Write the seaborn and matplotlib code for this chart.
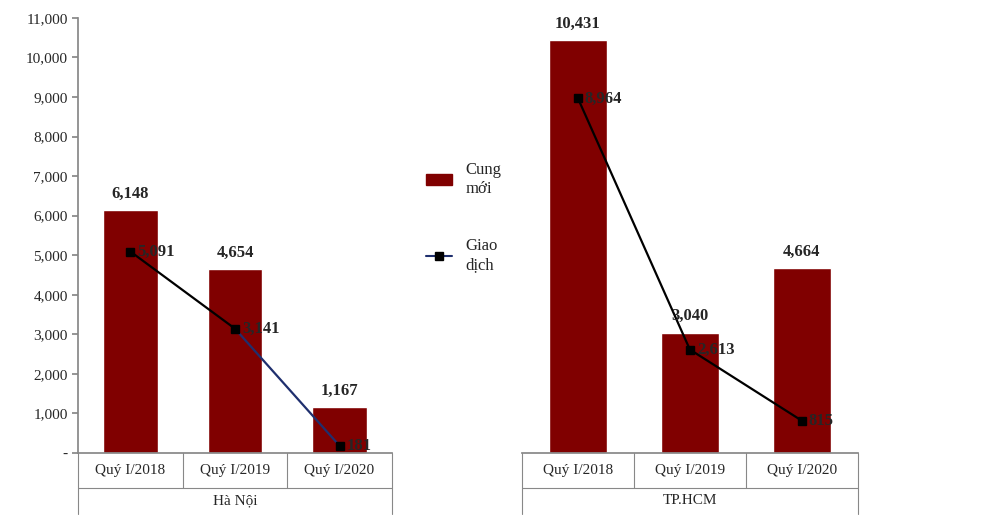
import matplotlib
matplotlib.use("Agg")
import matplotlib.pyplot as plt
import seaborn as sns
import pandas as pd
from matplotlib.lines import Line2D
from matplotlib.patches import Patch

quarters = ["Quý I/2018", "Quý I/2019", "Quý I/2020"]
regions = ["Hà Nội", "TP.HCM"]
supply = {"Hà Nội": [6148, 4654, 1167], "TP.HCM": [10431, 3040, 4664]}
deals = {"Hà Nội": [5091, 3141, 181], "TP.HCM": [8964, 2613, 815]}
yticks = list(range(0, 11001, 1000))

sns.set_theme(style="white")
plt.rcParams['font.family'] = ['Liberation Serif', 'DejaVu Serif']
bar_color = "#800000"

fig = plt.figure(figsize=(10.02, 5.26), dpi=100)
ax1 = fig.add_axes([0.078, 0.139, 0.313, 0.827])
ax2 = fig.add_axes([0.521, 0.139, 0.335, 0.827])

for ax, reg in zip([ax1, ax2], regions):
    df = pd.DataFrame({"q": quarters, "v": supply[reg]})
    sns.barplot(data=df, x="q", y="v", color=bar_color, width=0.52, ax=ax, saturation=1)
    xs = list(range(3))
    if reg == "Hà Nội":
        ax.plot(xs[:2], deals[reg][:2], color="black", lw=1.6)
        ax.plot(xs[1:], deals[reg][1:], color="#1f2f6e", lw=1.6)
    else:
        ax.plot(xs, deals[reg], color="black", lw=1.6)
    ax.plot(xs, deals[reg], ls="none", marker="s", ms=6, color="black")
    for x, v in zip(xs, supply[reg]):
        ax.annotate(f"{v:,}", (x, v), xytext=(0, 6), textcoords="offset points",
                    ha="center", va="bottom", fontsize=12, fontweight="bold")
    for x, v in zip(xs, deals[reg]):
        ax.annotate(f"{v:,}", (x, v), xytext=(5, 0), textcoords="offset points",
                    ha="left", va="center", fontsize=12, fontweight="bold")
    ax.set_xlim(-0.5, 2.5)
    ax.set_ylim(0, 11000)
    ax.set_xlabel("")
    ax.set_ylabel("")
    ax.set_xticks([])
    for s in ["top", "right", "left"]:
        ax.spines[s].set_visible(False)
    ax.spines["bottom"].set_color("#888888")
    # category box below axis
    tr = ax.get_xaxis_transform()
    for i, xb in enumerate([-0.5, 0.5, 1.5, 2.5]):
        y_end = -0.14 if i in (0, 3) else -0.08
        ax.plot([xb, xb], [0, y_end], color="#888888", lw=0.8, transform=tr, clip_on=False)
    ax.plot([-0.5, 2.5], [-0.08, -0.08], color="#888888", lw=0.8, transform=tr, clip_on=False)
    for x, q in zip(xs, quarters):
        ax.text(x, -0.04, q, transform=tr, ha="center", va="center", fontsize=11)
    ax.text(1, -0.11, reg, transform=tr, ha="center", va="center", fontsize=11)

ax1.spines["left"].set_visible(True)
ax1.spines["left"].set_color("#888888")
ax1.set_yticks(yticks)
ax1.set_yticklabels(["-"] + [f"{t:,}" for t in yticks[1:]], fontsize=11)
ax1.tick_params(axis="y", left=True, length=4, color="#888888")
ax2.set_yticks([])

handles = [Patch(color=bar_color), Line2D([], [], color="#1f2f6e", marker="s", mfc="black", mec="black", ms=6)]
fig.legend(handles, ["Cung\nmới", "Giao\ndịch"], loc="upper left", bbox_to_anchor=(0.41, 0.72),
           frameon=False, fontsize=12, labelspacing=2.5, handlelength=1.6)

fig.savefig("out.png", dpi=100)
